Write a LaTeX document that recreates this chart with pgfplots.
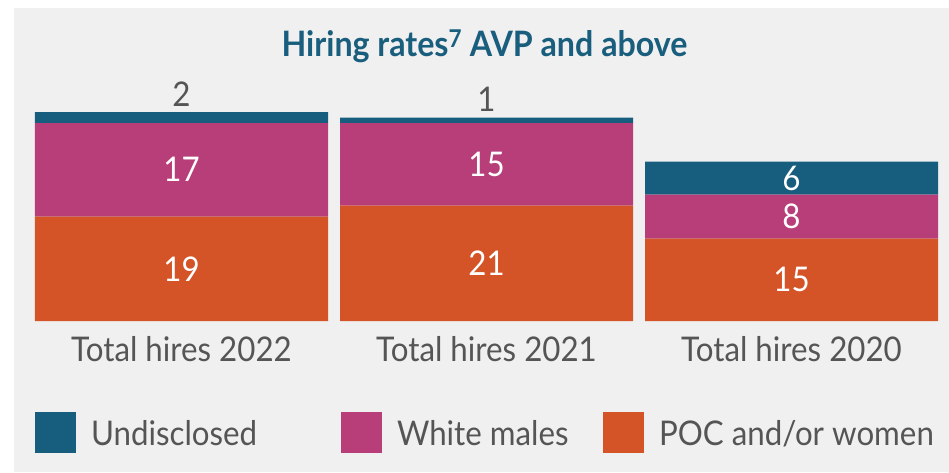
\documentclass[border=0pt]{standalone}
\usepackage{pgfplots}
\pgfplotsset{compat=1.18}
\usepackage{fontspec}
\setmainfont{Lato}[FakeStretch=0.92]
\definecolor{undis}{HTML}{175E7E}
\definecolor{wm}{HTML}{B73E78}
\definecolor{poc}{HTML}{D45427}
\definecolor{bg}{HTML}{F0F0F0}
\definecolor{txt}{HTML}{555555}
\definecolor{ttl}{HTML}{1A5E7E}
\newcommand{\bigf}{\fontsize{34}{40}\selectfont}
\begin{document}
\begin{tikzpicture}
\path[use as bounding box] (0,0) rectangle (949pt,472pt);
\fill[bg] (14pt,0) rectangle (949pt,464pt);
\node[anchor=base, inner sep=0pt, font=\fontsize{35}{40}\selectfont\bfseries, text=ttl] at (484.5pt,415pt) {Hiring rates\textsuperscript{7} AVP and above};

\begin{axis}[
  at={(29pt,151pt)}, anchor=south west,
  scale only axis, width=915pt, height=220pt,
  xmin=-0.5, xmax=2.5, ymin=0, ymax=40,
  ybar stacked, bar width=293pt,
  axis line style={draw=none},
  ytick=\empty,
  xtick={0,1,2},
  xticklabels={Total hires 2022, Total hires 2021, Total hires 2020},
  xtick style={draw=none},
  xticklabel style={anchor=base, yshift=-40pt, font=\bigf, text=txt},
  clip=false,
  reverse legend,
  legend columns=3,
  legend style={at={(0.00656,-0.509)}, anchor=west, draw=none, fill=none,
    inner sep=0pt, outer sep=0pt, font=\fontsize{34}{40}\selectfont, text=txt,
    nodes={inner sep=0pt},
    /tikz/every odd column/.append style={column sep=15pt}},
  legend cell align=left,
]
\addplot[fill=poc, draw=none, legend image code/.code={\fill[poc] (0pt,-20pt) rectangle (41pt,21pt);}]
  coordinates {(0,19) (1,21) (2,15)};
\addlegendentry{POC and/or women}
\addplot[fill=wm, draw=none, legend image code/.code={\fill[wm] (0pt,-20pt) rectangle (41pt,21pt);}]
  coordinates {(0,17) (1,15) (2,8)};
\addlegendentry{\makebox[206pt][l]{White males}}
\addplot[fill=undis, draw=none, legend image code/.code={\fill[undis] (0pt,-20pt) rectangle (41pt,21pt);}]
  coordinates {(0,2) (1,1) (2,6)};
\addlegendentry{\makebox[250pt][l]{Undisclosed}}
\end{axis}

\begin{axis}[
  at={(29pt,151pt)}, anchor=south west,
  scale only axis, width=915pt, height=220pt,
  xmin=-0.5, xmax=2.5, ymin=0, ymax=40,
  hide axis, clip=false,
]
\addplot[draw=none, nodes near coords, point meta=explicit symbolic,
  nodes near coords align={center},
  nodes near coords style={anchor=center, text=white, font=\bigf}]
  coordinates {(0,9.5)[19] (1,10.5)[21] (2,7.5)[15] (0,27.5)[17] (1,28.5)[15] (2,19)[8] (2,26)[6]};
\addplot[draw=none, nodes near coords, point meta=explicit symbolic,
  nodes near coords style={anchor=south, text=txt, font=\bigf, yshift=2pt}]
  coordinates {(0,38)[2] (1,37)[1]};
\end{axis}
\end{tikzpicture}
\end{document}
